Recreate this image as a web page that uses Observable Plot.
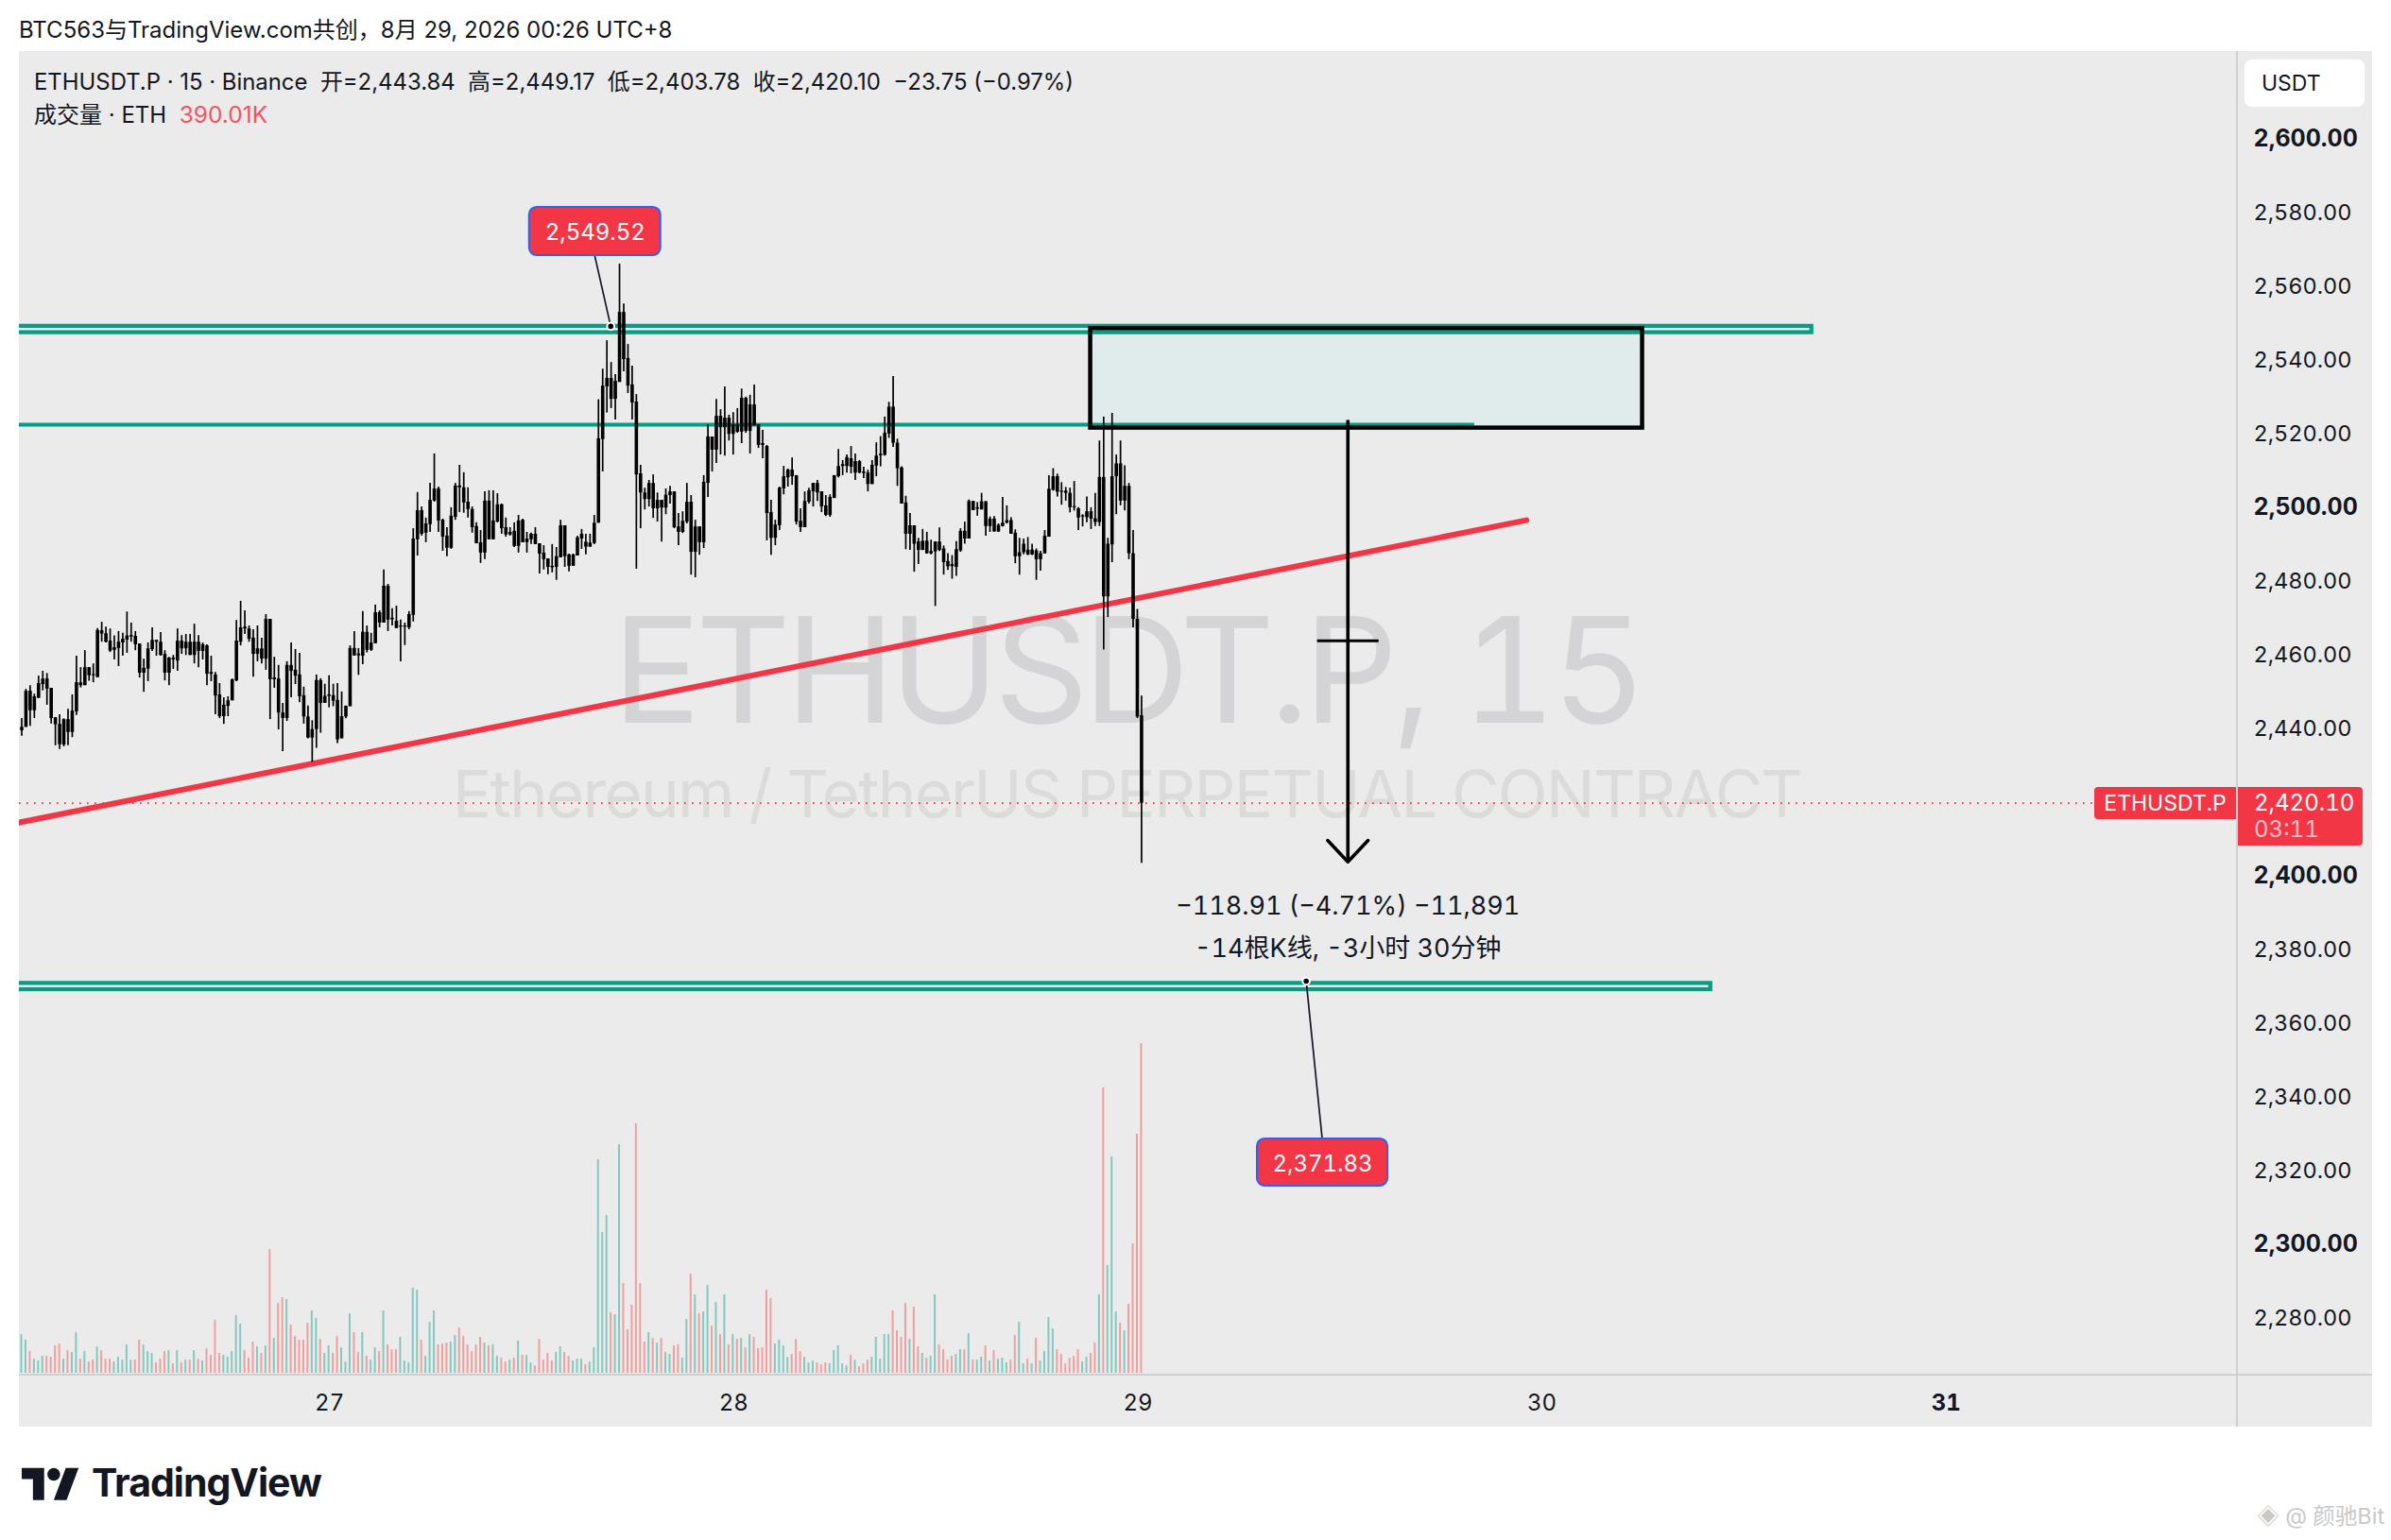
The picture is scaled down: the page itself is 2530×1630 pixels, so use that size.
<!DOCTYPE html>
<html lang="zh">
<head>
<meta charset="utf-8">
<script src="https://cdn.jsdelivr.net/npm/d3@7"></script>
<script src="https://cdn.jsdelivr.net/npm/@observablehq/plot@0.6"></script>
<style>
  html,body{margin:0;padding:0;background:#fff;width:2530px;height:1630px;overflow:hidden}
  body{font-family:Inter,"Noto Sans CJK SC",sans-serif;color:#131722;position:relative;font-variant-numeric:tabular-nums}
  .abs{position:absolute;white-space:pre;line-height:1}
  #panel{position:absolute;left:20px;top:54px;width:2490px;height:1456px;background:#ebebeb}
  #vline{position:absolute;left:2366px;top:54px;width:2px;height:1456px;background:#cfcfd1}
  #hline{position:absolute;left:20px;top:1454px;width:2490px;height:2px;background:#cfcfd1}
  svg.chart{position:absolute;left:0;top:0}
  .wm1{letter-spacing:-5.7px}
  .wm2{letter-spacing:-1.8px}
  .tnum{font-variant-numeric:tabular-nums}
</style>
</head>
<body>
<div id="panel"></div><div id="vline"></div><div id="hline"></div>
<div id="chart"></div>
<div class="abs" style="left:20px;top:20px;font-size:24px;font-variant-numeric:normal">BTC563与TradingView.com共创，8月 29, 2026 00:26 UTC+8</div>
<div class="abs" style="left:36px;top:75px;font-size:23.9px;font-variant-numeric:normal">ETHUSDT.P · 15 · Binance  开=2,443.84  高=2,449.17  低=2,403.78  收=2,420.10  −23.75 (−0.97%)</div>
<div class="abs" style="left:36px;top:109px;font-size:24px;font-variant-numeric:normal">成交量 · ETH  <span style="color:#f7525f;font-size:24.5px">390.01K</span></div>
<div class="abs" style="left:2375px;top:63px;width:127px;height:50px;background:#fff;border-radius:7px"></div>
<div class="abs" style="left:2393px;top:77px;font-size:23px">USDT</div>
<div class="abs" style="left:2216px;top:833px;width:150px;height:34px;background:#f23645;border-radius:4px 0 0 4px;color:#fff;font-size:23px;line-height:34px;text-align:center">ETHUSDT.P</div>
<div class="abs" style="left:2368px;top:833px;width:132px;height:62px;background:#f23645;border-radius:0 4px 4px 0"></div>
<div class="abs" style="left:2385px;top:838px;color:#fff;font-size:24px">2,420.10</div>
<div class="abs" style="left:2385px;top:866px;color:#fbc1c7;font-size:24px">03:11</div>
<svg class="abs" style="left:23px;top:1550px" width="61" height="38" viewBox="0 2 36 22"><path fill="#131722" d="M14 24H7V11H0V4h14v20zM28 24h-8l7.5-20h8L28 24z"/><circle cx="20" cy="8" r="4" fill="#131722"/></svg>
<div class="abs" style="left:97px;top:1549px;font-size:41px;font-weight:700;letter-spacing:-1px">TradingView</div>
<div class="abs" style="left:2388px;top:1593px;font-size:23.5px;color:#c9c9c9">◈ @ 颜驰Bit</div>
<script>
// Candles, bar by bar (15 minute bars, black in the reference)
const wickHigh = [
2443.1,2451.0,2452.0,2449.7,2454.6,2455.9,2455.3,2451.3,2443.3,2444.1,
2443.0,2445.6,2449.5,2460.0,2456.9,2461.5,2456.9,2457.9,2467.5,2469.2,
2467.9,2467.4,2465.5,2466.7,2466.2,2472.0,2469.0,2466.7,2463.3,2459.2,
2463.6,2467.7,2464.3,2466.4,2461.5,2459.7,2460.2,2467.4,2465.6,2465.9,
2465.9,2468.7,2465.6,2463.6,2463.1,2460.0,2455.6,2452.6,2448.7,2449.0,
2453.8,2469.7,2474.9,2472.3,2468.2,2467.2,2468.2,2464.9,2471.3,2470.0,
2459.7,2457.5,2447.2,2458.5,2463.6,2461.8,2460.8,
2451.6,2446.5,2442.5,2454.9,2453.9,2452.4,2454.7,2452.4,2452.6,2450.3,
2446.5,2462.8,2466.7,2462.1,2472.1,2468.2,2466.2,2473.9,2472.3,2483.4,
2479.5,2472.9,2473.6,2469.8,2469.0,2472.1,2494.6,2504.4,2500.5,2497.5,
2506.9,2514.9,2505.9,2497.2,2494.9,2500.3,2506.9,2511.8,2509.8,2505.7,
2500.5,2496.2,2494.1,2504.6,2504.9,2504.9,2504.1,2501.3,2497.5,2494.9,
2496.2,2498.2,2497.2,2493.6,2493.4,2494.9,2490.5,2490.0,2486.4,2490.3,
2489.5,2496.9,2495.4,2487.7,2487.7,2492.6,2494.4,2493.1,
2493.1,2498.2,2529.6,2537.9,2545.6,2539.7,2536.4,2566.4,2555.6,2544.6,
2538.7,2531.0,2511.8,2505.6,2507.7,2509.2,2504.3,2502.3,2505.4,2506.1,
2504.6,2498.7,2499.2,2506.9,2503.6,2496.9,2495.1,2509.0,2522.8,2519.5,
2529.7,2526.9,2533.1,2525.4,2526.1,2527.2,2532.5,2530.3,2530.8,2533.6,
2522.8,2521.3,2517.2,2502.3,2496.9,2505.9,2511.5,2510.8,2513.8,2509.0,
2500.0,2504.6,2505.6,2506.9,2507.7,2504.6,2503.6,2503.8,2509.0,2516.1,
2513.1,2514.6,2516.9,2514.9,2513.1,2511.3,2510.5,
2513.1,2517.9,2519.6,2524.9,2528.9,2535.9,2518.9,2511.4,2503.4,2498.7,
2495.4,2492.0,2494.4,2493.6,2491.5,2491.0,2494.8,2489.9,2487.8,2487.3,
2491.1,2494.6,2496.4,2502.4,2502.0,2501.7,2504.2,2502.0,2497.8,2497.9,
2495.9,2503.1,2500.8,2497.6,2494.3,2492.0,2491.8,2492.2,2490.4,2489.1,
2488.5,2494.1,2509.0,2510.9,2509.4,2507.1,2505.8,2505.6,2507.4,2500.3,
2498.4,2503.2,2500.3,2504.2,2518.4,2524.9,2492.0,2525.9,2514.6,2518.4,
2511.7,2506.9,2494.1,2472.7,2449.17];
const bodyHigh = [
2440.7,2450.5,2450.5,2449.0,2452.6,2453.8,2453.8,2451.3,2443.3,2441.5,
2442.8,2442.8,2445.1,2452.8,2452.8,2456.9,2456.9,2455.0,2467.0,2466.9,
2466.1,2464.1,2462.3,2463.8,2464.6,2465.5,2465.6,2465.4,2463.3,2456.7,
2462.0,2464.3,2464.3,2463.8,2460.5,2459.5,2459.5,2464.1,2464.1,2463.8,
2463.8,2463.8,2463.8,2463.1,2462.8,2455.6,2454.9,2449.5,2446.7,2447.9,
2453.6,2464.1,2467.7,2467.9,2467.4,2464.9,2462.0,2462.0,2470.0,2470.0,
2454.1,2453.8,2444.6,2457.5,2457.5,2456.2,2454.9,
2449.3,2443.5,2440.1,2453.4,2453.4,2449.1,2449.5,2449.3,2448.0,2443.6,
2446.4,2462.1,2462.1,2460.6,2466.5,2466.5,2463.6,2471.8,2471.8,2479.0,
2479.0,2470.3,2469.5,2468.2,2468.2,2471.3,2491.8,2499.5,2499.5,2495.9,
2502.3,2505.4,2505.4,2496.9,2492.6,2498.0,2506.2,2506.2,2505.7,2501.8,
2499.8,2495.2,2490.8,2502.1,2502.1,2496.7,2501.1,2501.1,2494.9,2493.6,
2493.9,2496.7,2496.9,2491.8,2493.1,2493.1,2490.5,2488.0,2486.4,2484.4,
2487.0,2495.4,2495.4,2487.5,2487.5,2492.1,2493.1,2490.9,
2490.7,2496.1,2519.0,2533.3,2535.4,2535.4,2534.6,2553.3,2553.3,2540.8,
2533.6,2529.0,2509.5,2504.3,2506.9,2506.9,2502.3,2502.3,2503.7,2504.6,
2504.6,2495.1,2496.6,2501.8,2501.8,2495.1,2495.1,2507.2,2519.5,2519.5,
2525.1,2525.1,2524.6,2524.6,2522.8,2522.8,2530.0,2530.0,2528.2,2528.2,
2522.8,2517.7,2516.9,2499.0,2495.6,2505.6,2508.7,2510.5,2510.5,2509.0,
2496.6,2502.0,2504.9,2506.9,2506.9,2504.6,2500.8,2503.1,2509.0,2511.5,
2512.0,2513.9,2513.6,2512.8,2512.8,2510.0,2509.7,
2511.8,2514.3,2514.8,2520.5,2527.6,2527.6,2517.8,2511.1,2501.6,2495.4,
2495.4,2491.0,2491.2,2491.2,2488.4,2491.0,2491.0,2489.1,2485.7,2484.9,
2488.9,2493.9,2493.9,2502.0,2502.0,2500.3,2501.9,2501.9,2497.2,2497.2,
2495.5,2496.1,2496.8,2496.8,2493.4,2488.1,2490.4,2488.8,2488.8,2488.6,
2487.8,2492.6,2505.3,2508.7,2508.7,2504.8,2504.8,2504.2,2500.6,2500.0,
2498.1,2499.2,2499.2,2497.3,2508.5,2508.5,2490.4,2508.7,2512.2,2512.2,
2506.1,2506.1,2487.8,2470.0,2443.84];
const bodyLow = [
2439.8,2440.7,2445.2,2445.2,2448.6,2452.3,2451.1,2443.1,2441.4,2436.0,
2435.9,2439.3,2439.3,2444.9,2452.0,2452.0,2454.7,2454.7,2454.2,2466.0,
2463.8,2461.4,2461.6,2462.1,2463.6,2464.4,2465.2,2463.1,2455.4,2455.4,
2456.5,2461.8,2463.8,2460.2,2455.4,2455.4,2459.0,2458.7,2462.0,2462.0,
2460.2,2460.2,2461.3,2461.3,2455.1,2455.1,2449.2,2443.6,2443.6,2446.4,
2447.9,2453.3,2463.8,2467.4,2464.6,2460.5,2460.5,2459.2,2459.2,2453.6,
2453.6,2444.6,2443.1,2443.1,2455.9,2454.6,2449.0,
2443.5,2437.8,2437.8,2440.1,2447.2,2447.2,2449.1,2447.8,2437.3,2437.6,
2443.5,2446.3,2460.1,2460.1,2460.0,2461.6,2461.6,2463.4,2469.0,2469.0,
2469.8,2469.9,2467.5,2467.9,2467.9,2467.7,2471.1,2491.6,2493.1,2493.4,
2495.7,2502.1,2496.7,2492.3,2489.3,2489.3,2497.7,2505.7,2501.6,2499.8,
2494.9,2490.5,2488.0,2488.0,2491.6,2491.6,2496.4,2494.6,2492.9,2492.9,
2489.8,2489.8,2490.8,2490.8,2491.6,2490.3,2487.7,2486.2,2484.1,2484.0,
2484.1,2486.7,2487.0,2484.4,2484.4,2487.2,2491.8,2489.6,
2489.6,2490.6,2496.1,2518.8,2533.1,2529.7,2529.7,2534.3,2540.5,2533.3,
2528.7,2509.2,2504.3,2502.5,2502.5,2500.0,2500.0,2500.2,2500.2,2503.6,
2494.9,2493.6,2493.6,2496.4,2488.2,2488.2,2490.8,2490.8,2506.9,2515.9,
2515.9,2522.0,2522.0,2520.2,2520.2,2520.8,2520.8,2521.0,2521.0,2522.5,
2517.2,2517.2,2498.7,2492.0,2492.0,2495.4,2505.4,2508.4,2508.7,2496.4,
2494.9,2494.9,2501.8,2504.6,2504.3,2500.5,2498.2,2498.2,2502.8,2508.7,
2511.5,2511.5,2511.3,2509.7,2509.7,2509.6,2506.6,
2506.6,2511.6,2514.4,2514.5,2520.3,2517.8,2510.9,2501.3,2493.1,2493.1,
2490.4,2488.7,2488.7,2487.8,2487.8,2488.3,2488.7,2485.4,2484.3,2484.3,
2484.1,2488.6,2491.8,2491.8,2499.5,2499.9,2499.7,2495.2,2495.2,2493.7,
2493.7,2495.2,2496.1,2493.1,2487.0,2487.0,2488.1,2487.5,2487.5,2486.2,
2486.2,2487.8,2492.3,2505.0,2504.5,2504.5,2504.2,2500.3,2500.3,2497.5,
2497.8,2497.6,2497.2,2496.3,2496.3,2476.1,2476.1,2490.2,2508.7,2502.1,
2502.1,2487.8,2470.0,2443.5,2420.10];
const wickLow = [
2438.3,2440.7,2441.0,2443.1,2448.5,2450.6,2446.7,2441.6,2435.7,2434.7,
2435.4,2435.7,2437.9,2443.9,2451.4,2452.0,2453.2,2452.8,2454.2,2463.8,
2463.6,2461.0,2459.0,2457.2,2460.0,2460.8,2463.8,2461.5,2454.1,2450.2,
2453.1,2461.3,2460.0,2460.0,2453.3,2452.0,2456.4,2455.9,2460.5,2460.2,
2460.2,2457.9,2456.9,2459.0,2452.0,2453.1,2444.1,2443.1,2441.5,2443.6,
2447.9,2453.1,2462.8,2465.9,2463.8,2454.3,2458.5,2457.9,2456.2,2442.8,
2451.3,2440.0,2434.1,2442.3,2448.7,2452.3,2447.4,
2441.6,2437.6,2431.2,2435.0,2439.1,2447.2,2446.0,2446.3,2436.3,2437.6,
2443.0,2446.3,2460.0,2454.8,2457.7,2460.9,2461.3,2463.4,2467.7,2469.0,
2466.7,2468.2,2467.5,2458.5,2462.9,2467.2,2469.3,2487.2,2492.6,2490.8,
2493.6,2501.8,2493.6,2488.5,2487.0,2489.0,2496.9,2499.0,2498.8,2497.5,
2493.4,2490.5,2485.2,2486.2,2491.6,2491.6,2496.2,2493.1,2492.3,2492.6,
2489.5,2488.0,2490.8,2488.0,2490.3,2490.3,2482.3,2483.4,2482.1,2482.6,
2480.6,2486.7,2484.1,2482.9,2484.4,2487.2,2489.0,2487.5,
2489.6,2490.3,2496.1,2510.0,2526.0,2527.2,2524.1,2534.3,2537.2,2531.3,
2524.1,2483.6,2494.6,2499.7,2500.5,2497.4,2496.4,2491.0,2498.4,2501.3,
2494.6,2490.0,2493.3,2495.9,2482.0,2481.3,2487.4,2489.2,2503.1,2510.0,
2512.3,2514.6,2514.3,2518.4,2514.6,2520.5,2517.7,2520.5,2514.9,2522.5,
2516.4,2513.6,2491.3,2487.4,2490.0,2494.1,2503.8,2505.9,2506.4,2495.6,
2493.6,2494.9,2501.3,2500.5,2502.0,2499.0,2497.9,2497.7,2502.8,2508.4,
2509.0,2509.7,2509.5,2507.7,2509.5,2508.2,2504.6,
2506.6,2508.7,2511.4,2514.3,2519.1,2516.7,2506.1,2501.3,2488.9,2488.7,
2482.8,2484.9,2488.7,2487.7,2487.5,2473.5,2488.4,2482.0,2483.3,2480.9,
2481.7,2488.2,2490.4,2491.8,2499.5,2498.0,2499.7,2492.6,2493.6,2493.7,
2493.6,2495.1,2495.9,2493.1,2485.1,2482.0,2487.5,2487.3,2487.3,2480.6,
2483.1,2487.7,2492.3,2504.8,2503.2,2501.0,2502.1,2498.9,2499.4,2494.1,
2495.1,2496.2,2494.4,2495.2,2495.2,2461.7,2470.5,2485.4,2498.4,2500.8,
2499.4,2486.2,2467.7,2443.1,2403.78];
// Volume per bar, thousands of ETH
const volume = [
45.8,39.1,25.7,16.8,14.5,20.1,20.1,19.0,32.4,34.6,16.8,26.8,24.6,48.1,16.8,25.7,13.4,15.6,31.3,26.8,
16.8,16.8,13.4,19.0,15.6,33.5,15.6,15.6,39.1,33.5,25.7,23.5,12.3,16.8,25.7,26.8,11.2,26.8,12.3,15.6,
15.6,26.8,16.8,14.5,29.1,21.2,62.6,23.5,21.2,19.0,25.7,68.2,58.1,26.8,17.9,36.9,31.3,23.5,32.4,146.4,
41.3,82.7,89.4,87.2,57.0,43.6,39.1,
39.1,59.2,73.8,64.8,40.2,23.5,32.4,23.5,43.6,30.2,13.4,70.4,48.1,24.6,48.1,20.1,15.6,30.2,25.7,73.8,
33.5,27.9,27.9,42.5,14.5,12.3,100.6,98.3,39.1,20.1,60.3,73.8,33.5,34.6,35.8,36.9,44.7,53.6,43.6,33.5,
25.7,33.5,42.5,35.8,32.4,33.5,20.1,17.9,13.4,15.6,17.9,38.0,21.2,21.2,12.3,8.9,40.2,15.6,23.5,14.5,
24.6,31.3,24.6,20.1,14.5,16.8,16.8,10.1,
13.4,30.2,252.6,166.5,186.6,71.5,69.3,270.4,106.2,51.4,80.5,295.0,106.2,36.9,48.1,41.3,35.8,41.3,24.6,22.4,
32.4,33.5,17.9,63.7,117.3,92.8,70.4,72.6,103.9,55.9,83.8,45.8,92.8,33.5,45.8,40.2,41.3,30.2,45.8,42.5,
29.1,30.2,98.3,88.3,34.6,39.1,32.4,19.0,22.4,40.2,25.7,19.0,12.3,14.5,12.3,10.1,12.3,11.2,26.8,32.4,
11.2,8.9,21.2,15.6,7.8,11.2,15.6,
19.0,42.5,16.8,45.8,45.8,73.8,50.3,42.5,82.7,40.2,78.2,31.3,23.5,17.9,20.1,92.8,33.5,27.9,15.6,20.1,
22.4,27.9,27.9,46.9,15.6,15.6,19.0,32.4,14.5,26.8,16.8,17.9,12.3,15.6,44.7,60.3,11.2,16.8,11.2,41.3,
14.5,25.7,65.9,52.5,27.9,22.4,11.2,17.9,20.1,27.9,13.4,19.0,23.5,35.8,92.8,337.5,127.4,255.9,72.6,59.2,
50.3,81.6,153.1,282.7,390.0];
// u = rising bar (teal volume), d = falling bar (red volume)
const direction = (
"u u d u u u d d d d u d u u d u d d u d d d u u u u u d d u u u d d d u d u d u d u d u d d d d u u u u u d d d u d u d u d d u d d d " +
"d d u u d u u d d u u u d d u d u u d u d d d u u u u u d u u u d d d u u d d d d d d u d u u d d u d u d u u d d d d d u u d d u u u d " +
"u u u u u d u u d d d d d d u d u d u u d d u u d u d u u d u d u d u d u d u d d d d d u u u u d d d u u u d d d u u u u u d u d d d " +
"u u u u u d d d d u d d u d u u d d d d u u d u d u u d u d u u u d d u u d u d u u u u d d d d d d u u d d u d u u u d u d d d d"
).split(" ");

const fmtPrice = d3.format(",.2f");
const boldPriceTicks = [2600, 2500, 2400, 2300];
const priceTicks = [2580, 2560, 2540, 2520, 2480, 2460, 2440, 2380, 2360, 2340, 2320, 2280];
const dayTickBars = [73, 169, 265, 361];
const dayTickBold = [457];
const dayLabels = new Map([[73, "27"], [169, "28"], [265, "29"], [361, "30"], [457, "31"]]);

const lastPrice = 2420.10;
const bandHigh = {x2: 425.1, y1: 2549.52, y2: 2547.8};
const bandLow = {x2: 401.1, y1: 2371.2, y2: 2369.5};
const line2522 = {x2: 345, y: 2522.8};
const zone = {x1: 253.8, x2: 384.9, y1: 2548.9, y2: 2521.9};
const trend = [{x: -0.67, y: 2414.9}, {x: 357.3, y: 2496.9}];
const measure = {x: 314.9, y1: 2524.0, y2: 2404.2, mid: 2464.2, midX1: 307.7, midX2: 322.3, headX1: 310.1, headX2: 319.7, headY: 2410.0};
const calloutA = {price: 2549.52, x: 139.8, x1: 120.5, x2: 151.7, y1: 2581.8, y2: 2568.7, fromX: 136.0, fromY: 2568.7};
const calloutB = {price: 2371.83, x: 305.0, x1: 293.4, x2: 324.4, y1: 2329.0, y2: 2316.2, fromX: 308.8, fromY: 2329.0};

const volBase = 2265.4;
const volToPrice = 1 / (1.1175 * 3.9);
const bars = d3.range(wickHigh.length);
const teal = "#0a9b85", red = "#f23645";
const wmFont = "Inter,'Liberation Sans',sans-serif";
const font = "Inter,'Noto Sans CJK SC',sans-serif";

const callout = c => [
  Plot.link([c], {x1: "fromX", y1: "fromY", x2: "x", y2: "price", stroke: "#131722", strokeWidth: 1.7}),
  Plot.dot([c], {x: "x", y: "price", r: 3.8, fill: "#000", stroke: "#fff", strokeWidth: 2}),
  Plot.rect([c], {x1: "x1", x2: "x2", y1: "y1", y2: "y2", fill: red, stroke: "#2962ff", strokeWidth: 2, rx: 8}),
  Plot.text([c], {x: d => (d.x1 + d.x2) / 2, y: d => (d.y1 + d.y2) / 2, text: d => fmtPrice(d.price), fill: "#fff", fontSize: 24, dy: 1.5, fontFamily: font, className: "tnum"})
];

const chart = Plot.plot({
  width: 2530, height: 1630,
  marginLeft: 20, marginRight: 163, marginTop: 54, marginBottom: 175,
  x: {domain: [-0.67, 526.2]},
  y: {domain: [2264.9, 2624.1]},
  style: {background: "transparent", overflow: "visible"},
  className: "chart",
  marks: [
    Plot.text(["ETHUSDT.P, 15"], {x: 262.4, y: 2454.7, text: d => d, fontSize: 156, fill: "#d4d4d6", fontFamily: wmFont, className: "wm1"}),
    Plot.text(["Ethereum / TetherUS PERPETUAL CONTRACT"], {x: 262.4, y: 2421.9, text: d => d, fontSize: 69, fill: "#dbdbdc", fontFamily: wmFont, className: "wm2"}),
    Plot.rect([zone], {x1: "x1", x2: "x2", y1: "y1", y2: "y2", fill: "#e0eceb"}),
    Plot.rect([bandHigh], {x1: () => -5, x2: "x2", y1: "y1", y2: "y2", fill: "#f4f4f4", stroke: teal, strokeWidth: 4.3, clip: true}),
    Plot.rect([bandLow], {x1: () => -5, x2: "x2", y1: "y1", y2: "y2", fill: "#f4f4f4", stroke: teal, strokeWidth: 4.3, clip: true}),
    Plot.ruleY([line2522], {x1: () => -0.67, x2: "x2", y: "y", stroke: teal, strokeWidth: 4}),
    Plot.rect([zone], {x1: "x1", x2: "x2", y1: "y1", y2: "y2", fill: "none", stroke: "#000", strokeWidth: 4.5}),
    Plot.ruleY([lastPrice], {stroke: red, strokeWidth: 1.7, strokeDasharray: "1.7 6.3"}),
    Plot.line(trend, {x: "x", y: "y", stroke: red, strokeWidth: 6, strokeLinecap: "round", clip: true}),
    Plot.ruleX(bars, {x: i => i, y1: () => volBase, y2: i => volBase + volume[i] * volToPrice, stroke: i => direction[i] === "u" ? "#84c8bf" : "#f09f9d", strokeWidth: 2, dx: -1}),
    Plot.ruleX(bars, {x: i => i, y1: i => wickLow[i], y2: i => wickHigh[i], stroke: "#000", strokeWidth: 1.7, dx: -0.5}),
    Plot.ruleX(bars, {x: i => i, y1: i => bodyLow[i], y2: i => bodyHigh[i], stroke: "#000", strokeWidth: 3.6, dx: -0.5}),
    Plot.ruleX([measure], {x: "x", y1: "y1", y2: "y2", stroke: "#000", strokeWidth: 3.6}),
    Plot.ruleY([measure], {x1: "midX1", x2: "midX2", y: "mid", stroke: "#000", strokeWidth: 3}),
    Plot.line([[measure.headX1, measure.headY], [measure.x, measure.y2], [measure.headX2, measure.headY]], {x: d => d[0], y: d => d[1], stroke: "#000", strokeWidth: 3.6, strokeLinecap: "round", strokeLinejoin: "round"}),
    Plot.text(["−118.91 (−4.71%) −11,891"], {x: measure.x, y: 2392.0, text: d => d, fontSize: 27, fill: "#131722", fontFamily: font, className: "tnum"}),
    Plot.text(["-14根K线, -3小时 30分钟"], {x: measure.x, y: 2380.6, text: d => d, fontSize: 27, fill: "#131722", fontFamily: font, className: "tnum"}),
    ...callout(calloutA),
    ...callout(calloutB),
    Plot.axisY({anchor: "right", ticks: priceTicks, tickFormat: fmtPrice, tickSize: 0, tickPadding: 17, fontSize: 23.5, dy: -1.5, label: null, fill: "#131722", fontFamily: font}),
    Plot.axisY({anchor: "right", ticks: boldPriceTicks, tickFormat: fmtPrice, tickSize: 0, tickPadding: 17, fontSize: 25, fontWeight: 700, dy: -1.5, label: null, fill: "#131722", fontFamily: font}),
    Plot.axisX({ticks: dayTickBars, tickFormat: d => dayLabels.get(d), tickSize: 0, tickPadding: 20, fontSize: 24, label: null, fill: "#131722", fontFamily: font}),
    Plot.axisX({ticks: dayTickBold, tickFormat: d => dayLabels.get(d), tickSize: 0, tickPadding: 20, fontSize: 24, fontWeight: 700, label: null, fill: "#131722", fontFamily: font})
  ]
});
document.getElementById("chart").append(chart);
</script>
</body>
</html>
